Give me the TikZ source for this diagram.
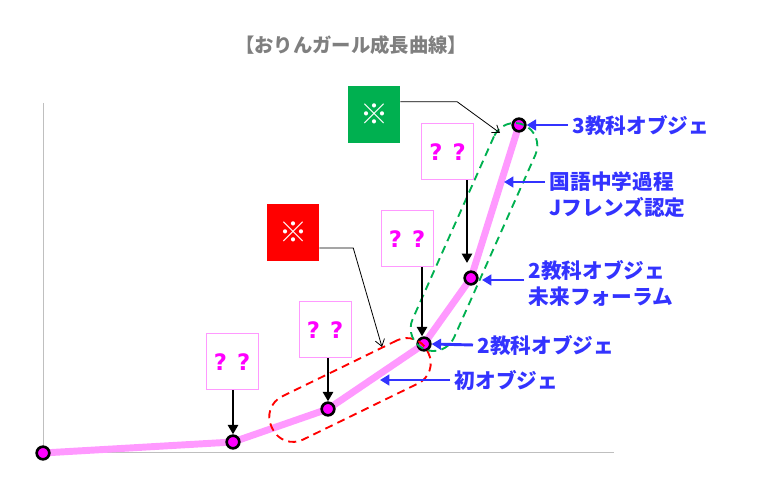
\documentclass[tikz,border=0pt]{standalone}
\usepackage{fontspec}
\setmainfont{Noto Sans CJK JP}
\newfontfamily\qfont{DejaVu Sans}
\usetikzlibrary{arrows.meta,positioning,calc}
\definecolor{lineblue}{RGB}{51,51,255}
\definecolor{curvepink}{RGB}{255,153,255}
\definecolor{dotpink}{RGB}{255,0,255}
\definecolor{notegreen}{RGB}{0,176,80}
\definecolor{titlegray}{RGB}{127,127,127}
\definecolor{axisgray}{RGB}{191,191,191}
\newcommand{\qq}{?\hspace{0.45em}?}
\begin{document}
\begin{tikzpicture}[
  x=0.75pt, y=-0.75pt,
  >=Triangle,
  every node/.style={font=\bfseries\fontsize{15.5}{19}\selectfont},
  pt/.style={circle, draw=black, fill=dotpink, line width=2pt, minimum size=9.5pt, inner sep=0pt},
  qbox/.style={draw=curvepink, fill=white, line width=0.75pt, minimum width=39pt, minimum height=42pt, inner sep=0pt, text=dotpink, font=\qfont\bfseries\fontsize{17}{18}\selectfont},
  notebox/.style={minimum width=39pt, minimum height=42.75pt, text=white, font=\bfseries\fontsize{21}{22}\selectfont},
  bluelab/.style={text=lineblue, align=left, anchor=west},
  bluearr/.style={-{Triangle[length=7pt,width=8pt]}, draw=lineblue, fill=lineblue, line width=2.2pt},
  blackarr/.style={-{Triangle[length=7pt,width=7.5pt]}, line width=2.2pt},
  callout/.style={-{Straight Barb[length=5pt,width=7pt]}, line width=0.6pt},
  capsule/.style={draw, dashed, dash pattern=on 6pt off 4pt, line width=1.4pt, rounded corners=17pt}
]
  \useasboundingbox (0,0) rectangle (761,498);

  % Title
  \node[text=titlegray, font=\bfseries\fontsize{14.5}{17}\selectfont] (title) at (351,45) {【おりんガール成長曲線】};

  % Axes
  \coordinate (ytop) at (43,103);
  \coordinate (orig) at (43,453);
  \coordinate (xend) at (614,453);
  \draw[axisgray, line width=0.75pt] (ytop) -- (orig) -- (xend);

  % Growth curve
  \coordinate (v0) at (43,453);
  \coordinate (v1) at (233,442);
  \coordinate (v2) at (328,409);
  \coordinate (v3) at (424,344);
  \coordinate (v4) at (471,278);
  \coordinate (v5) at (519,125);
  \draw[curvepink, line width=5.2pt, line join=round] (v0) -- (v1) -- (v2) -- (v3) -- (v4) -- (v5);
  \foreach \i in {0,...,5}
    \node[pt] (p\i) at (v\i) {};

  % Groups
  \node[capsule, draw=red, minimum width=130pt, minimum height=36pt, rotate=26] (redgrp) at (350,390) {};
  \node[capsule, draw=notegreen, minimum width=184pt, minimum height=34pt, rotate=66] (greengrp) at (474,237) {};

  % Question boxes
  \node[qbox] (q1) at (232,362) {\qq};
  \node[qbox] (q2) at (325,330) {\qq};
  \node[qbox] (q3) at (407,239) {\qq};
  \node[qbox] (q4) at (447.5,152) {\qq};
  \draw[blackarr] (q1.south -| p1) -- (p1.north);
  \draw[blackarr] (q2.south -| p2) -- (p2.north);
  \draw[blackarr] ([xshift=-1.5pt]q3.south -| p3) -- ([xshift=-1.5pt]p3.north);
  \coordinate (q4tip) at (467,263);
  \draw[blackarr] (q4.south -| q4tip) -- (q4tip);

  % Note boxes
  \node[notebox, fill=notegreen] (gnote) at (374,114.5) {※};
  \node[notebox, fill=red] (rnote) at (293,232.5) {※};
  \coordinate (gtip) at (500,133);
  \coordinate (rtip) at (382,347);
  \draw[callout] ($(gnote.north east)!0.28!(gnote.south east)$) -- ++(57,0) -- (gtip);
  \draw[callout] ($(rnote.north east)!0.77!(rnote.south east)$) -- ++(34,0) -- (rtip);

  % Blue labels
  \node[bluelab] (l5) at (568,125) {3教科オブジェ};
  \draw[bluearr] (l5.west) -- (p5.east);

  \node[bluelab] (l45) at (545,194.5) {国語中学過程\\Jフレンズ認定};
  \coordinate (k45) at (504,182);
  \draw[bluearr] (l45.west |- k45) -- (k45);

  \node[bluelab] (l4) at (524,283.5) {2教科オブジェ\\未来フォーラム};
  \coordinate (k4) at (482,280);
  \draw[bluearr] (l4.west |- k4) -- (k4);

  \node[bluelab] (l3) at (473,345) {2教科オブジェ};
  \draw[bluearr] (l3.west) -- (p3.east);

  \node[bluelab] (l23) at (450,380) {初オブジェ};
  \coordinate (k23) at (380,380);
  \draw[bluearr] (l23.west) -- (k23);
\end{tikzpicture}
\end{document}
